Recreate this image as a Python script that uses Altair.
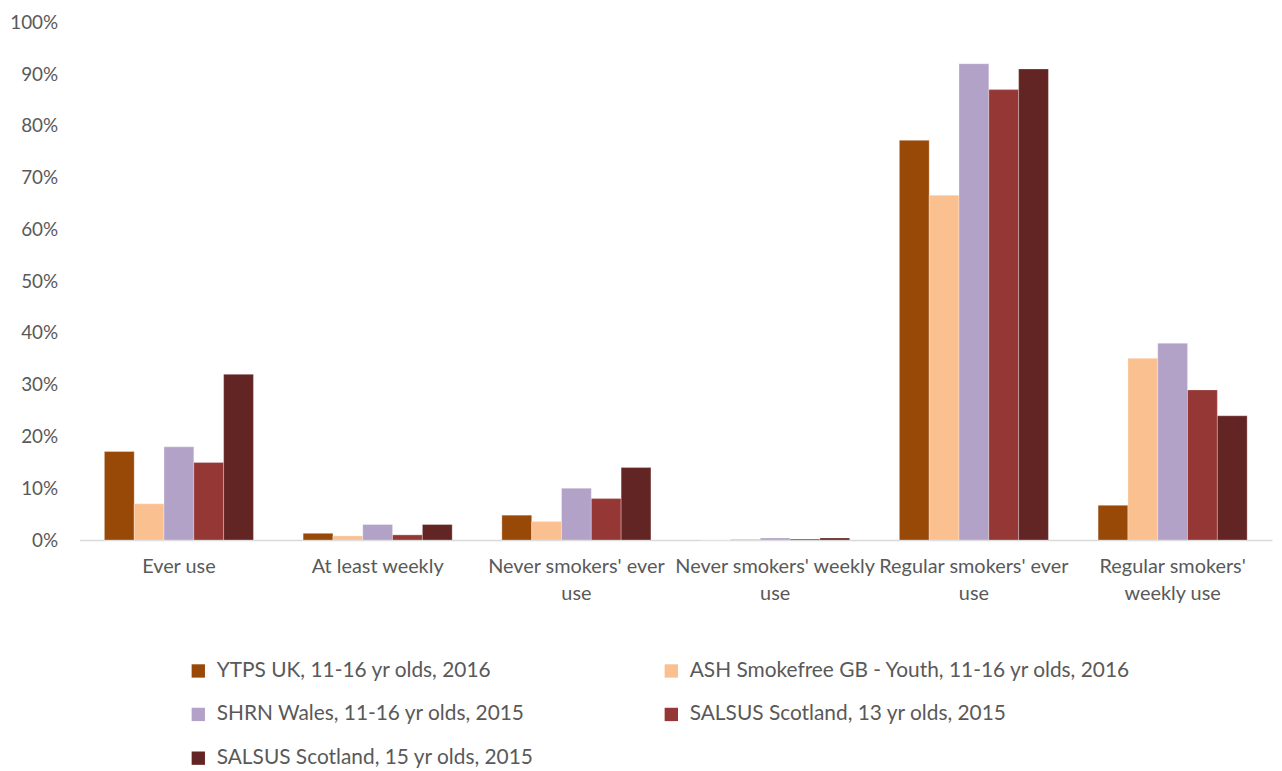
import altair as alt
import pandas as pd

categories = ["Ever use", "At least weekly", "Never smokers' ever use",
              "Never smokers' weekly use", "Regular smokers' ever use",
              "Regular smokers' weekly use"]
category_lines = {
    "Ever use": ["Ever use"],
    "At least weekly": ["At least weekly"],
    "Never smokers' ever use": ["Never smokers' ever", "use"],
    "Never smokers' weekly use": ["Never smokers' weekly", "use"],
    "Regular smokers' ever use": ["Regular smokers' ever", "use"],
    "Regular smokers' weekly use": ["Regular smokers'", "weekly use"],
}
series = ["YTPS UK, 11-16 yr olds, 2016",
          "ASH Smokefree GB - Youth, 11-16 yr olds, 2016",
          "SHRN Wales, 11-16 yr olds, 2015",
          "SALSUS Scotland, 13 yr olds, 2015",
          "SALSUS Scotland, 15 yr olds, 2015"]
colors = ["#984807", "#FAC090", "#B3A2C7", "#953735", "#632523"]

ytps = [17.1, 1.3, 4.8, 0.0, 77.2, 6.7]
ash = [7.0, 0.8, 3.6, 0.2, 66.6, 35.1]
shrn = [18.0, 3.0, 10.0, 0.4, 92.0, 38.0]
salsus13 = [15.0, 1.0, 8.0, 0.2, 87.0, 29.0]
salsus15 = [32.0, 3.0, 14.0, 0.4, 91.0, 24.0]
values = [ytps, ash, shrn, salsus13, salsus15]

rows = []
for s, vals in zip(series, values):
    for c, v in zip(categories, vals):
        rows.append({"category": c, "series": s, "value": v / 100.0})
df = pd.DataFrame(rows)

label_expr_parts = []
for c, lines in category_lines.items():
    js_lines = "[" + ",".join("'" + l.replace("'", "\\'") + "'" for l in lines) + "]"
    label_expr_parts.append((c, js_lines))
expr = "datum.value"
for c, js in reversed(label_expr_parts):
    cq = c.replace("'", "\\'")
    expr = f"datum.value == '{cq}' ? {js} : ({expr})"

FONT = "Lato"
TXT = "#595959"

chart = alt.Chart(df).mark_bar(stroke="white", strokeWidth=0.5, strokeOpacity=0.6).encode(
    x=alt.X("category:N", sort=categories, title=None,
            scale=alt.Scale(paddingInner=0.25, paddingOuter=0.125),
            axis=alt.Axis(labelAngle=0, labelExpr=expr, labelFont=FONT, labelFontSize=20,
                          labelColor=TXT, labelPadding=17, ticks=False,
                          domainColor="#D9D9D9", domainWidth=1.5, labelLimit=300,
                          labelLineHeight=27)),
    xOffset=alt.XOffset("series:N", sort=series,
                        scale=alt.Scale(paddingInner=0, paddingOuter=0)),
    y=alt.Y("value:Q", title=None,
            scale=alt.Scale(domain=[0, 1], nice=False),
            axis=alt.Axis(format=".0%", values=[i / 10 for i in range(11)],
                          labelFont=FONT, labelFontSize=19, labelColor=TXT,
                          labelPadding=22, ticks=False, domain=False, grid=False)),
    color=alt.Color("series:N", sort=series,
                    scale=alt.Scale(domain=series, range=colors),
                    legend=alt.Legend(title=None, orient="none", legendX=109, legendY=642,
                                      columns=2, direction="horizontal",
                                      columnPadding=127, rowPadding=22,
                                      symbolType="square", symbolSize=180,
                                      symbolStrokeWidth=0, labelFont=FONT,
                                      labelFontSize=21, labelColor=TXT, labelLimit=600,
                                      labelOffset=8)),
).properties(
    width=1200, height=521,
    autosize=alt.AutoSizeParams(type="none"),
    padding={"left": 72, "top": 12, "right": 2, "bottom": 228},
).configure_view(stroke=None)

chart.save("out.html", embed_options={"renderer": "svg", "actions": False})
